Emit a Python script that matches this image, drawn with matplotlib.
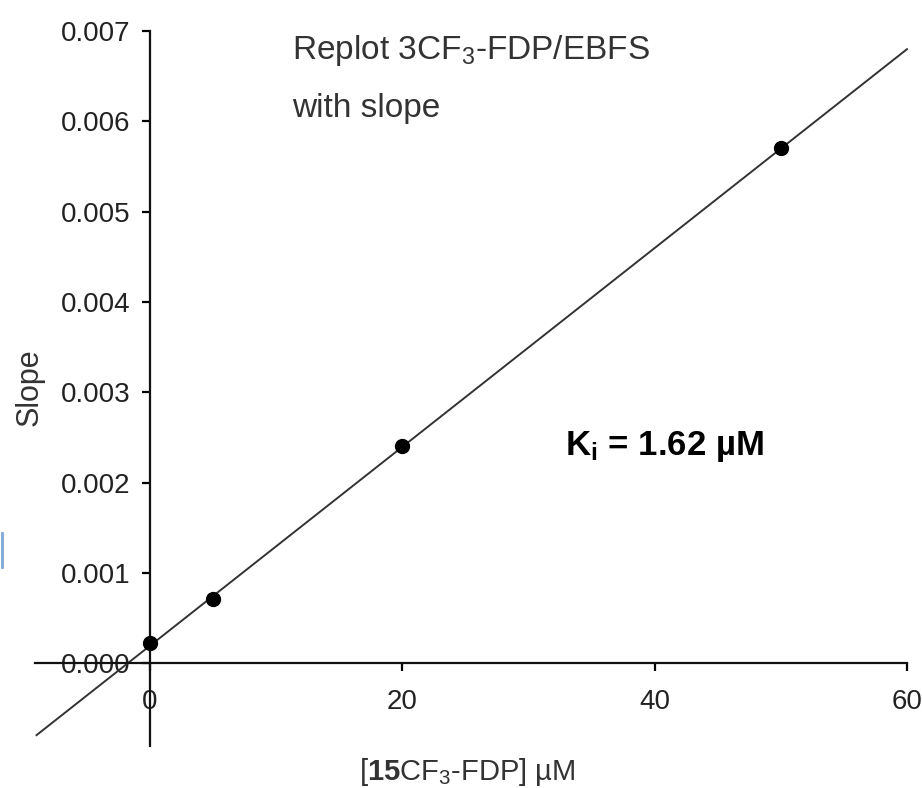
import numpy as np
import matplotlib
matplotlib.use("Agg")
import matplotlib.pyplot as plt
from matplotlib.lines import Line2D

# data
conc = [0, 5, 20, 50]                       # [15CF3-FDP] uM
slope = [0.00022, 0.00071, 0.00240, 0.00570]
x_ticks = [0, 20, 40, 60]
y_ticks = [0.000, 0.001, 0.002, 0.003, 0.004, 0.005, 0.006, 0.007]

plt.rcParams["font.family"] = ["Liberation Sans", "DejaVu Sans"]
plt.rcParams["mathtext.fontset"] = "custom"
plt.rcParams["mathtext.rm"] = "Liberation Sans"
plt.rcParams["mathtext.it"] = "Liberation Sans"
plt.rcParams["mathtext.bf"] = "Liberation Sans:bold"

fig = plt.figure(figsize=(9.22, 7.88), dpi=100)
ax = fig.add_axes([0.0369, 0.0497, 0.9605, 0.9452])
ax.set_xlim(-9.2, 61.0)
ax.set_ylim(-0.00095, 0.0073)

# linear fit through the points
k, b = np.polyfit(conc, slope, 1)
xs = np.array([-9.0, 60.0])
ax.plot(xs, k * xs + b, color="#333333", lw=1.4, clip_on=False, zorder=2)
ax.plot(conc, slope, "o", color="black", ms=10, zorder=3)

for s in ["top", "right"]:
    ax.spines[s].set_visible(False)
ax.spines["left"].set_position(("data", 0))
ax.spines["bottom"].set_position(("data", 0))
ax.spines["left"].set_bounds(-0.00092, 0.007)
ax.spines["bottom"].set_bounds(-9.1, 60)
for s in ["left", "bottom"]:
    ax.spines[s].set_linewidth(1.6)
    ax.spines[s].set_color("#111111")

ax.set_yticks(y_ticks)
ax.set_yticklabels([f"{v:.3f}" for v in y_ticks], fontsize=20, color="#222222")
ax.set_xticks(x_ticks)
ax.set_xticklabels([str(v) for v in x_ticks], fontsize=20, color="#222222")
ax.tick_params(axis="y", direction="out", length=6, width=1.6, pad=8)
ax.tick_params(axis="x", direction="out", length=6, width=1.6, pad=13)
ax.patch.set_visible(False)

fig.text(30 / 922, 1 - 387 / 788, "Slope", rotation=90, ha="center", va="center",
         fontsize=22, color="#333333")
fig.text(467 / 922, 1 - 772 / 788, r"[$\mathbf{15}$CF$_3$-FDP] µM", ha="center", va="center",
         fontsize=21, color="#333333")
fig.text(292 / 922, 1 - 50 / 788, r"Replot 3CF$_3$-FDP/EBFS", ha="left", va="center",
         fontsize=24, color="#333333")
fig.text(292 / 922, 1 - 108 / 788, "with slope", ha="left", va="center",
         fontsize=24, color="#333333")
fig.text(565 / 922, 1 - 447 / 788, r"K$_\mathbf{i}$ = 1.62 µM", ha="left", va="center",
         fontsize=25, fontweight="bold", color="black")

# small blue mark on the left edge of the reference
fig.add_artist(Line2D([1.5 / 922, 1.5 / 922], [1 - 533 / 788, 1 - 567 / 788],
                      transform=fig.transFigure, color="#7fa7d8", lw=2))

fig.savefig("out.png", dpi=100, facecolor="white")
